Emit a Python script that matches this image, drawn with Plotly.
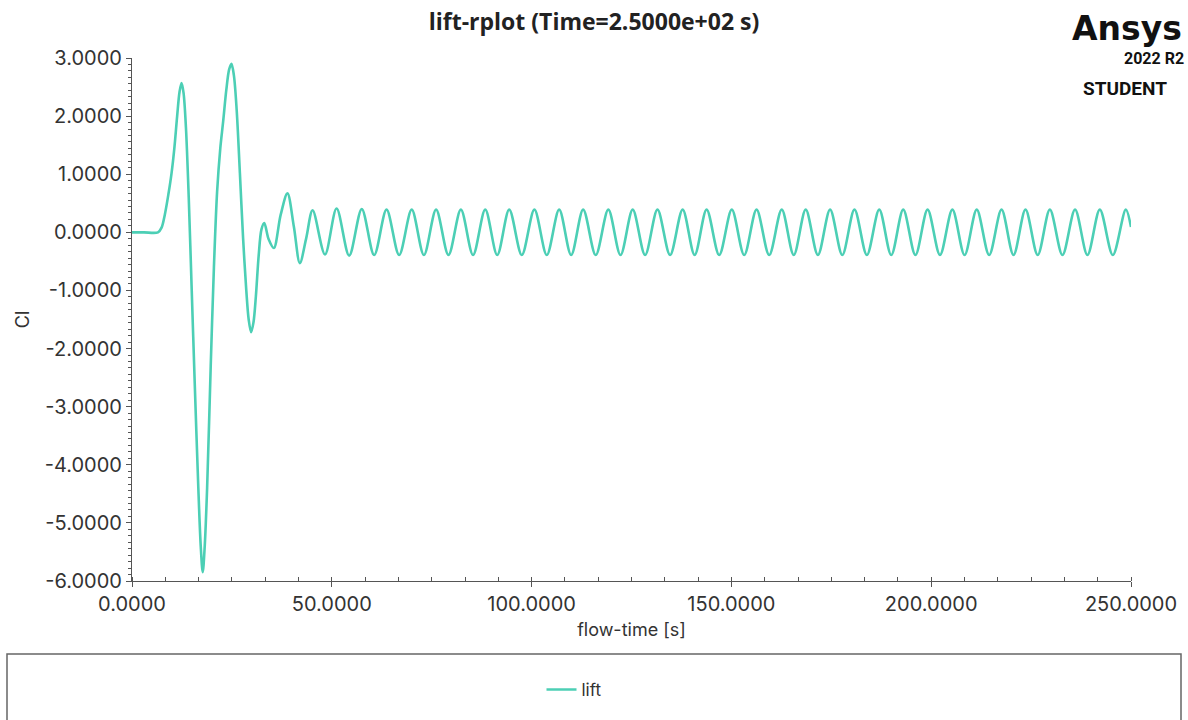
import plotly.graph_objects as go

# ---- data ----
transient_t = [0.0, 3.0, 6.5, 7.4, 8.2, 9.1, 9.9, 10.6, 11.3, 11.9, 12.4, 12.9, 13.5, 14.2,
               14.9, 15.7, 16.6, 17.2, 17.7, 18.2, 18.8, 19.7, 20.5, 21.3, 22.1, 22.8, 23.6,
               24.3, 24.9, 25.5, 26.2, 27.0, 27.8, 28.6, 29.2, 29.8, 30.4, 31.0, 31.7, 32.4,
               33.1, 34.2, 35.5, 37.2, 38.9, 40.5, 42.0, 43.6, 45.2, 48.3]
transient_cl = [0.0, 0.0, 0.0, 0.08, 0.30, 0.65, 1.02, 1.45, 2.00, 2.42, 2.57, 2.40, 1.80, 0.60,
                -0.90, -2.60, -4.40, -5.40, -5.85, -5.40, -4.40, -2.30, -0.60, 0.70, 1.45, 1.90, 2.45,
                2.80, 2.90, 2.70, 2.10, 1.02, -0.10, -1.00, -1.50, -1.72, -1.55, -1.10, -0.40, 0.05,
                0.16, -0.12, -0.27, 0.30, 0.67, 0.10, -0.53, -0.10, 0.38, -0.38]

peak_t = [51.2, 57.5, 63.7, 70.0, 76.1, 82.3, 88.4, 94.4, 100.7, 106.9, 112.9, 119.2, 125.3,
          131.5, 137.8, 143.8, 150.1, 156.3, 162.6, 168.6, 174.7, 180.8, 187.0, 193.0, 199.1,
          205.3, 211.4, 217.6, 223.6, 229.7, 236.0, 242.2, 248.7]
peak_cl = [0.41, 0.40, 0.39, 0.39, 0.39, 0.39, 0.39, 0.39, 0.39, 0.39, 0.39, 0.39, 0.39,
           0.39, 0.39, 0.39, 0.39, 0.39, 0.39, 0.39, 0.39, 0.39, 0.39, 0.39, 0.39,
           0.39, 0.39, 0.39, 0.39, 0.39, 0.39, 0.39, 0.39]

trough_t = [54.35, 60.6, 66.85, 73.05, 79.2, 85.35, 91.4, 97.55, 103.8, 109.9, 116.05, 122.25,
            128.4, 134.65, 140.8, 146.95, 153.2, 159.45, 165.6, 171.65, 177.75, 183.9, 190.0,
            196.05, 202.2, 208.35, 214.5, 220.6, 226.65, 232.85, 239.1, 245.45]
trough_cl = [-0.40, -0.39, -0.39, -0.39, -0.39, -0.39, -0.39, -0.39, -0.39, -0.39, -0.39, -0.39,
             -0.39, -0.39, -0.39, -0.39, -0.39, -0.39, -0.39, -0.39, -0.39, -0.39, -0.39,
             -0.39, -0.39, -0.39, -0.39, -0.39, -0.39, -0.39, -0.39, -0.39]

end_t = [250.0]
end_cl = [0.09]

x_ticks = [0, 50, 100, 150, 200, 250]
y_ticks = [3, 2, 1, 0, -1, -2, -3, -4, -5, -6]

pts = sorted(zip(transient_t + peak_t + trough_t + end_t,
                 transient_cl + peak_cl + trough_cl + end_cl))
t_all = [p[0] for p in pts]
cl_all = [p[1] for p in pts]

LINE_COLOR = "#4ccfb5"
AX_COLOR = "#555555"
FONT = "Inter"

fig = go.Figure()
fig.add_trace(go.Scatter(x=t_all, y=cl_all, mode="lines", name="lift",
                         line=dict(color=LINE_COLOR, width=2.6, shape="spline", smoothing=0.9)))

# plot area in pixels: x 132..1131, y 58..581
W, H = 1188, 720
L, R, T, B = 132, 1131, 58, 581
def px(xp):
    return (xp - L) / (R - L)
def py(yp):
    return (B - yp) / (B - T)

fig.update_layout(
    width=W, height=H,
    margin=dict(l=L, r=W - R, t=T, b=H - B),
    paper_bgcolor="white", plot_bgcolor="white",
    font=dict(family=FONT, color="#333333", size=18),
    showlegend=True,
    legend=dict(x=px(574), y=py(690), xanchor="center", yanchor="middle",
                font=dict(size=17, color="#333333"), bgcolor="rgba(0,0,0,0)",
                itemwidth=30),
    title=dict(text="<b>lift-rplot (Time=2.5000e+02 s)</b>", x=0.5, xref="container",
               xanchor="center", y=1 - 22 / H, yanchor="middle",
               font=dict(family="Open Sans", size=23, color="#222222")),
)

fig.update_xaxes(
    range=[0, 250], tickvals=x_ticks, ticktext=[f"{v:.4f}" for v in x_ticks],
    showline=True, linecolor=AX_COLOR, linewidth=1.2, mirror=False,
    ticks="outside", ticklen=5, tickcolor=AX_COLOR, tickwidth=1.2,
    minor=dict(dtick=50 / 6, tick0=0, ticks="inside", ticklen=4, tickcolor=AX_COLOR, tickwidth=1.2),
    showgrid=False, zeroline=False,
    title=dict(text="flow-time [s]", standoff=8, font=dict(size=18, color="#333333")),
    tickfont=dict(size=20, color="#333333"),
)
fig.update_yaxes(
    range=[-6, 3], tickvals=y_ticks, ticktext=[f"{v:.4f}" for v in y_ticks],
    showline=True, linecolor=AX_COLOR, linewidth=1.2, mirror=False,
    ticks="outside", ticklen=5, tickcolor=AX_COLOR, tickwidth=1.2,
    minor=dict(dtick=1 / 9, tick0=0, ticks="outside", ticklen=3, tickcolor=AX_COLOR, tickwidth=1.2),
    showgrid=False, zeroline=False,
    title=dict(text="Cl", standoff=10, font=dict(size=18, color="#333333")),
    tickfont=dict(size=20, color="#333333"),
)

# legend frame
fig.add_shape(type="rect", xref="paper", yref="paper",
              x0=px(7), x1=px(1181), y0=py(735), y1=py(654),
              line=dict(color="#666666", width=1.5), fillcolor="rgba(0,0,0,0)", layer="below")

# logo texts
fig.add_annotation(text="<b>Ansys</b>", xref="paper", yref="paper", x=px(1184), y=py(28),
                   xanchor="right", yanchor="middle", showarrow=False,
                   font=dict(family="DejaVu Sans", size=33, color="#111111"))
fig.add_annotation(text="<b>2022 R2</b>", xref="paper", yref="paper", x=px(1186), y=py(59),
                   xanchor="right", yanchor="middle", showarrow=False,
                   font=dict(family="Roboto", size=16, color="#111111"))
fig.add_annotation(text="<b>STUDENT</b>", xref="paper", yref="paper", x=px(1125), y=py(88),
                   xanchor="center", yanchor="middle", showarrow=False,
                   font=dict(family="Roboto", size=19, color="#111111"))

fig.write_html("out.html")
